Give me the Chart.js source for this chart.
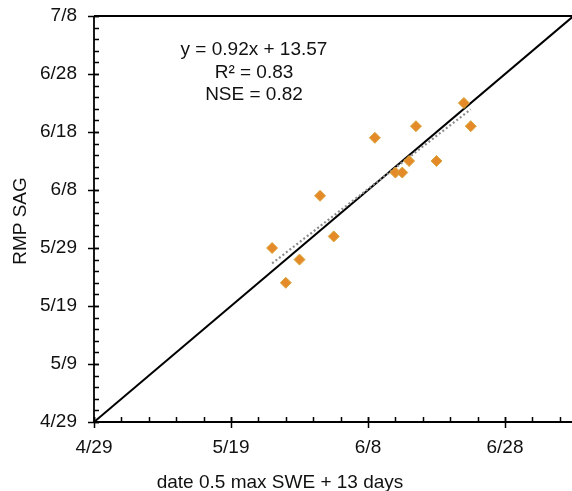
<!DOCTYPE html>
<html>
<head>
<meta charset="utf-8">
<title>RMP SAG</title>
<script src="https://cdn.jsdelivr.net/npm/chart.js@4.4.1/dist/chart.umd.min.js"></script>
<style>
  html, body { margin: 0; padding: 0; background: #fff; overflow: hidden; }
  #wrap { position: relative; width: 580px; height: 491px; }
</style>
</head>
<body>
<div id="wrap"><canvas id="chart" width="580" height="491"></canvas></div>
<script>
// date of 0.5 max SWE + 13 days (x) against RMP SAG date (y)
const sweDates = ['5/25', '5/27', '5/29', '6/1', '6/3', '6/9', '6/12', '6/13', '6/14', '6/15', '6/18', '6/22', '6/23'];
const sagDates = ['5/29', '5/23', '5/27', '6/7', '5/31', '6/17', '6/11', '6/11', '6/13', '6/19', '6/13', '6/23', '6/19'];

// axis ticks and range
const xTicks = ['4/29', '5/19', '6/8', '6/28'];
const yTicks = ['4/29', '5/9', '5/19', '5/29', '6/8', '6/18', '6/28', '7/8'];
const axisRange = ['4/29', '7/8'];

// fit statistics
const statLines = ['y = 0.92x + 13.57', 'R² = 0.83', 'NSE = 0.82'];

const FONT = '"Liberation Sans", Arial, sans-serif';
const DAY = 86400000;
const origin = Date.UTC(2019, 3, 29);

// 'M/D' <-> days since 4/29
function dayOf(md) {
  const [m, d] = md.split('/').map(Number);
  return Math.round((Date.UTC(2019, m - 1, d) - origin) / DAY);
}
function dateOf(n) {
  const d = new Date(origin + n * DAY);
  return (d.getUTCMonth() + 1) + '/' + d.getUTCDate();
}

const points = sweDates.map((x, i) => ({ x: dayOf(x), y: dayOf(sagDates[i]) }));

// least squares trend over the observed span
function trendLine(pts) {
  const n = pts.length;
  const mx = pts.reduce((s, p) => s + p.x, 0) / n;
  const my = pts.reduce((s, p) => s + p.y, 0) / n;
  let sxy = 0, sxx = 0;
  pts.forEach(p => { sxy += (p.x - mx) * (p.y - my); sxx += (p.x - mx) ** 2; });
  const b = sxy / sxx, a = my - b * mx;
  const x0 = Math.min(...pts.map(p => p.x));
  const x1 = Math.max(...pts.map(p => p.x));
  return [{ x: x0, y: a + b * x0 }, { x: x1, y: a + b * x1 }];
}

const lo = dayOf(axisRange[0]), hi = dayOf(axisRange[1]);

// frame, tick marks, titles and fit text
const decor = {
  id: 'decor',
  afterDraw(chart) {
    const { ctx, chartArea: a, scales: { x, y } } = chart;
    const seg = (x1, y1, x2, y2) => { ctx.beginPath(); ctx.moveTo(x1, y1); ctx.lineTo(x2, y2); ctx.stroke(); };
    ctx.save();
    ctx.strokeStyle = '#000';
    ctx.lineWidth = 1.8;
    seg(a.left, a.top, a.right, a.top);
    seg(a.left, a.top, a.left, a.bottom);
    seg(a.left, a.bottom, a.right, a.bottom);

    ctx.lineWidth = 1.5;
    for (let v = lo; v <= hi; v += 4) {
      const px = Math.round(x.getPixelForValue(v)) + 0.5;
      seg(px, a.bottom, px, a.bottom - 5);
    }
    for (let v = lo; v <= hi; v += 2) {
      const py = Math.round(y.getPixelForValue(v)) + 0.5;
      seg(a.left, py, a.left + 5, py);
    }
    xTicks.forEach(t => {
      const px = Math.round(x.getPixelForValue(dayOf(t))) + 0.5;
      seg(px, a.bottom - 5, px, a.bottom + 6);
    });
    yTicks.forEach(t => {
      const py = Math.round(y.getPixelForValue(dayOf(t))) + 0.5;
      seg(a.left - 6, py, a.left + 5, py);
    });

    ctx.fillStyle = '#111';
    ctx.font = '19px ' + FONT;
    ctx.textAlign = 'center';
    ctx.textBaseline = 'alphabetic';
    statLines.forEach((s, i) => ctx.fillText(s, 254, 55 + i * 22.7));

    ctx.fillText('date 0.5 max SWE + 13 days', 280, 488);
    ctx.translate(25.5, 221);
    ctx.rotate(-Math.PI / 2);
    ctx.fillText('RMP SAG', 0, 0);
    ctx.restore();
  }
};

// keep edge tick labels from shrinking the plot area
const noEdgePad = s => { s.paddingLeft = s.paddingRight = s.paddingTop = s.paddingBottom = 0; };

new Chart(document.getElementById('chart'), {
  type: 'scatter',
  data: {
    datasets: [
      {
        data: points,
        pointStyle: 'rectRot',
        pointRadius: 5.5,
        pointHoverRadius: 5.5,
        backgroundColor: '#e48a28',
        borderColor: '#d9a53c',
        borderWidth: 1,
        order: 0
      },
      {
        data: trendLine(points),
        showLine: true,
        pointRadius: 0,
        borderColor: '#8c8c8c',
        borderWidth: 2.2,
        borderDash: [2, 2.4],
        order: 1
      },
      {
        data: [{ x: lo, y: lo }, { x: hi, y: hi }],
        showLine: true,
        pointRadius: 0,
        borderColor: '#000',
        borderWidth: 2,
        order: 2
      }
    ]
  },
  options: {
    responsive: false,
    devicePixelRatio: 1,
    animation: false,
    layout: { padding: { left: 0, top: 16, right: 1, bottom: 0 } },
    plugins: { legend: { display: false }, tooltip: { enabled: false } },
    scales: {
      x: {
        type: 'linear',
        min: lo,
        max: hi,
        grid: { display: false, drawTicks: false },
        border: { display: false },
        afterBuildTicks: s => { s.ticks = xTicks.map(t => ({ value: dayOf(t) })); },
        afterFit: s => { s.height = 69; noEdgePad(s); },
        ticks: {
          autoSkip: false,
          maxRotation: 0,
          padding: 14,
          color: '#111',
          font: { family: FONT, size: 19 },
          callback: v => dateOf(v)
        }
      },
      y: {
        type: 'linear',
        min: lo,
        max: hi,
        grid: { display: false, drawTicks: false },
        border: { display: false },
        afterBuildTicks: s => { s.ticks = yTicks.map(t => ({ value: dayOf(t) })); },
        afterFit: s => { s.width = 94; noEdgePad(s); },
        ticks: {
          autoSkip: false,
          padding: 17,
          color: '#111',
          font: { family: FONT, size: 19 },
          callback: v => dateOf(v)
        }
      }
    }
  },
  plugins: [decor]
});
</script>
</body>
</html>
